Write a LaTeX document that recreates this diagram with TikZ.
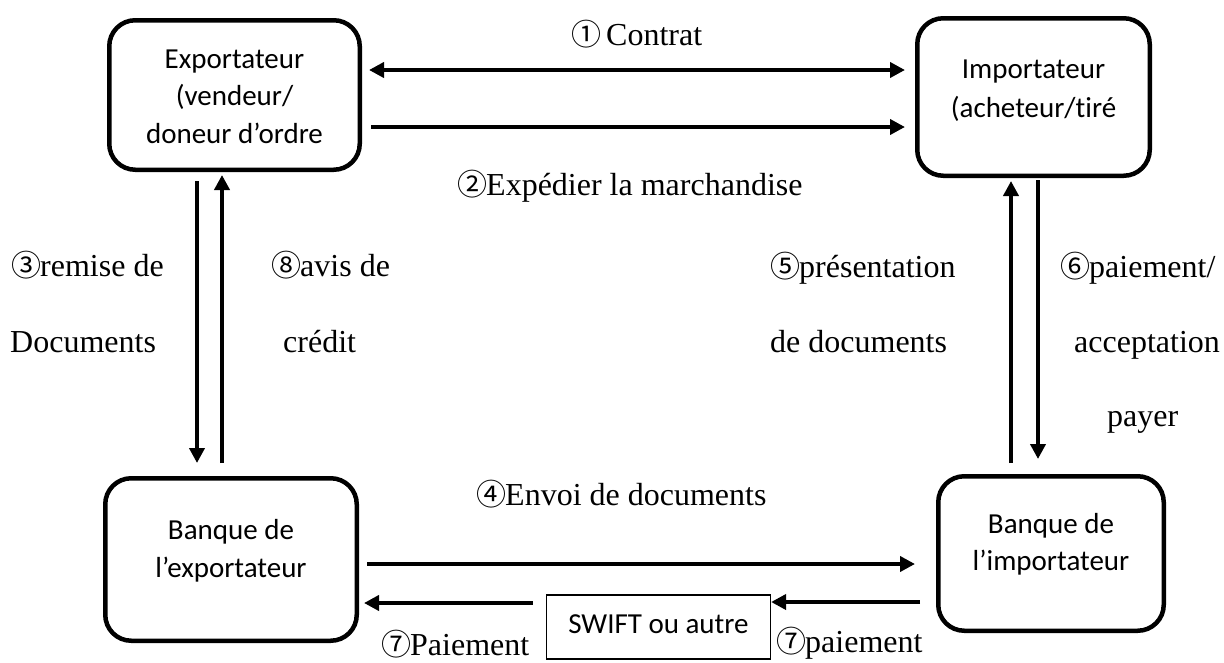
\documentclass[tikz,border=0pt]{standalone}
\usepackage{fontspec}
\setmainfont{Liberation Serif}
\newfontfamily\boxfont{Carlito}[Ligatures=NoCommon]
\newfontfamily\numfont{Noto Sans CJK JP}
\usetikzlibrary{arrows.meta}

% circled step numbers
\newcommand\cn[1]{\makebox[27pt][c]{\numfont\fontsize{30}{30}\selectfont #1}}

\begin{document}
\begin{tikzpicture}[x=1pt,y=-1pt,
  >={Triangle[length=15pt,width=15pt]},
  party/.style={draw, line width=4.5pt, rounded corners=26pt, inner sep=0pt},
  flow/.style={line width=4pt, ->},
  boxtext/.style={font=\boxfont\fontsize{29}{35}\selectfont, anchor=base, inner sep=0pt},
  lbl/.style={font=\fontsize{32}{38}\selectfont, anchor=base west, inner sep=0pt}]
\useasboundingbox (0,0) rectangle (1224,662);

% the four parties
\node[party, minimum width=250.5pt, minimum height=149.5pt] (exp) at (234.5,95) {};
\node[party, minimum width=232.5pt, minimum height=157.5pt] (imp) at (1033.5,97) {};
\node[party, minimum width=251.5pt, minimum height=162.5pt] (bexp) at (231,559.5) {};
\node[party, minimum width=225.5pt, minimum height=154.5pt] (bimp) at (1051,553.5) {};

% texts of the parties, line by line
\node[boxtext] (texp1) at (234.5,68) {Exportateur};
\node[boxtext] (texp2) at (234.5,105.5) {(vendeur/};
\node[boxtext] (texp3) at (234.5,143) {doneur d’ordre};
\node[boxtext] (timp1) at (1033.5,78) {Importateur};
\node[boxtext] (timp2) at (1033.5,117) {(acheteur/tiré};
\node[boxtext] (tbexp1) at (231,539) {Banque de};
\node[boxtext] (tbexp2) at (231,577) {l’exportateur};
\node[boxtext] (tbimp1) at (1051,533) {Banque de};
\node[boxtext] (tbimp2) at (1051,570) {l’importateur};

% transfer network
\node[draw, line width=1.2pt, minimum width=224pt, minimum height=64pt, inner sep=0pt,
  text height=18pt, text depth=6pt, font=\boxfont\fontsize{29}{34}\selectfont]
  (swift) at (658.5,627) {SWIFT ou autre};

% flows
\draw[flow, <->, shorten <=7pt, shorten >=10pt] (exp.east |- 0,70) -- (imp.west |- 0,70);
\draw[flow, shorten <=9pt, shorten >=10pt] (exp.east |- 0,127) -- (imp.west |- 0,127);
\draw[flow, shorten <=9pt, shorten >=13pt] (197,0 |- exp.south) -- (197,0 |- bexp.north);
\draw[flow, shorten <=13pt, shorten >=3pt] (222,0 |- bexp.north) -- (222,0 |- exp.south);
\draw[flow, shorten <=11pt, shorten >=3pt] (1011,0 |- bimp.north) -- (1011,0 |- imp.south);
\draw[flow, shorten <=2pt, shorten >=15pt] (1038,0 |- imp.south) -- (1038,0 |- bimp.north);
\draw[flow, shorten <=8pt, shorten >=21pt] (bexp.east |- 0,564) -- (bimp.west |- 0,564);
\draw[flow, shorten <=16pt] (bimp.west |- 0,602) -- (swift.east |- 0,602);
\draw[flow, shorten <=13pt, shorten >=5pt] (swift.west |- 0,603) -- (bexp.east |- 0,603);

% step labels
\node[lbl] (s1) at (573,45) {\cn{①}\hspace{6pt}Contrat};
\node[lbl] (s2) at (459,195) {\cn{②}Expédier la marchandise};
\node[lbl] (s3a) at (13,276) {\cn{③}remise de};
\node[lbl] (s3b) at (10,352) {Documents};
\node[lbl] (s8a) at (273,276) {\cn{⑧}avis de};
\node[lbl] (s8b) at (283,352) {crédit};
\node[lbl] (s5a) at (772,277) {\cn{⑤}présentation};
\node[lbl] (s5b) at (770,352) {de documents};
\node[lbl] (s6a) at (1062,277) {\cn{⑥}paiement/};
\node[lbl] (s6b) at (1074,352) {acceptation};
\node[lbl] (s6c) at (1107,426) {payer};
\node[lbl] (s4) at (478,505) {\cn{④}Envoi de documents};
\node[lbl] (s7a) at (383,655) {\cn{⑦}Paiement};
\node[lbl] (s7b) at (778,652) {\cn{⑦}paiement};
\end{tikzpicture}
\end{document}
